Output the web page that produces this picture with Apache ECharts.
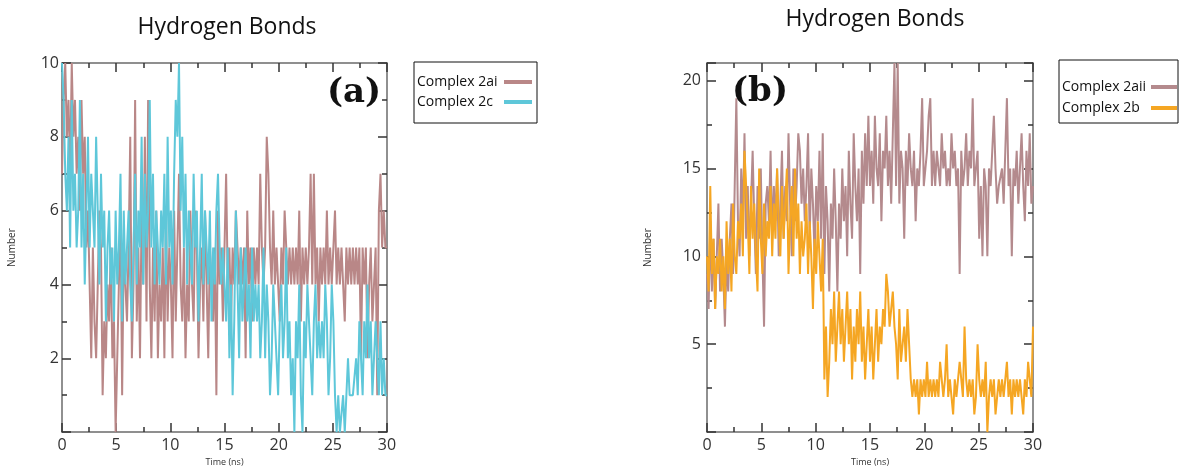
<!DOCTYPE html>
<html>
<head>
<meta charset="utf-8">
<script src="https://cdn.jsdelivr.net/npm/echarts@6/dist/echarts.min.js"></script>
<style>
  html, body { margin: 0; padding: 0; background: #fff; }
  #chart { width: 1185px; height: 472px; }
</style>
</head>
<body>
<div id="chart"></div>
<script>
'use strict';

///// data /////

// one sample every 0.15 ns, 0 .. 30 ns (201 samples), rows of 3 ns
const timeStep = 0.15;

const complex2ai = [
  7,9,10,8,9,7,10,8,9,7,8,6,9,7,8,5,6,4,2,5,
  3,2,4,6,5,1,3,2,4,3,5,2,3,0,2,4,6,1,5,4,
  3,5,8,2,4,9,3,5,2,6,4,8,3,9,4,2,5,3,6,2,
  4,3,5,2,6,3,5,4,2,6,3,5,7,4,3,5,2,4,3,6,
  4,3,6,5,2,4,5,3,6,4,2,5,4,3,5,1,6,4,5,3,
  5,7,4,5,3,5,4,6,5,4,5,4,5,2,6,4,5,3,5,4,
  5,4,7,5,4,5,8,7,5,4,6,4,5,4,3,5,4,6,5,4,
  5,4,5,4,5,4,6,3,5,4,5,4,5,7,4,7,4,5,3,5,
  4,5,4,6,4,5,4,5,6,4,5,4,5,4,3,5,4,5,4,5,
  4,5,4,5,2,5,4,5,2,4,5,3,4,5,1,6,7,5,6,5,
  5
];

const complex2c = [
  10,9,7,6,8,5,9,6,7,5,6,9,5,7,4,6,8,5,7,6,
  5,8,6,4,7,5,6,3,5,6,4,5,3,6,4,5,7,3,6,4,
  5,6,4,3,5,7,4,6,5,8,4,7,5,6,9,5,7,4,6,5,
  4,6,5,7,4,8,5,6,4,7,9,8,10,6,8,5,7,4,6,5,
  4,7,5,6,3,5,7,4,6,5,4,6,3,5,4,6,7,5,4,5,
  4,3,5,2,4,1,3,6,4,2,5,3,4,5,3,4,2,5,3,4,
  3,4,2,3,5,2,4,3,1,2,4,3,2,1,3,4,2,3,5,2,
  3,1,2,0,3,2,4,1,0,3,2,4,3,2,1,3,4,2,3,2,
  3,2,4,3,1,2,4,3,1,0,1,0,0,1,0,1,2,1,1,1,
  1,2,1,3,2,1,3,2,4,2,3,1,2,3,2,1,3,1,2,1,
  1
];

const complex2aii = [
  9,7,12,8,11,7,10,13,8,11,9,6,10,8,11,13,9,14,19,12,
  10,15,12,17,11,14,10,13,16,12,9,14,11,15,10,6,13,14,12,16,
  11,14,12,15,10,13,16,11,14,12,17,13,10,15,12,14,17,16,13,15,
  12,14,17,11,15,13,10,14,12,16,11,17,9,14,12,8,13,11,15,12,
  8,13,11,15,12,14,10,16,13,11,17,14,12,15,9,16,13,17,14,18,
  14,16,13,18,15,14,17,12,16,15,18,14,16,13,17,21,14,21,13,16,
  15,11,16,14,17,15,14,16,12,15,14,16,19,14,15,16,18,19,14,16,
  14,16,15,14,17,15,16,14,15,14,17,15,16,14,15,9,16,14,15,17,
  14,16,15,19,14,15,16,11,14,10,15,14,10,15,14,16,18,15,13,14,
  14,15,13,16,19,14,15,10,15,14,16,13,15,17,14,12,16,14,17,13,
  14
];

const complex2b = [
  10,8,14,9,11,7,10,9,11,8,10,7,12,9,11,8,13,10,9,12,
  11,13,10,16,16,12,9,14,11,13,10,8,15,11,9,13,10,12,11,14,
  10,13,11,15,12,10,14,11,13,15,9,12,14,10,15,11,13,9,12,10,
  11,13,9,12,10,7,11,9,12,10,8,11,3,6,2,4,7,5,8,4,
  6,8,5,7,4,6,8,5,7,3,6,4,7,5,8,4,6,3,5,7,
  4,6,3,5,7,4,6,5,7,6,9,8,6,7,8,6,5,3,7,4,
  5,6,4,7,5,3,2,3,2,3,1,3,2,3,2,4,2,3,2,3,
  2,3,2,4,3,2,3,5,2,3,2,1,3,2,3,4,3,2,6,3,
  2,3,2,3,1,2,5,3,2,3,2,4,0,2,3,2,3,1,2,3,
  2,3,2,3,4,2,3,1,3,2,3,2,3,2,1,3,2,4,3,2,
  6
];

const seriesNames = ['Complex 2ai', 'Complex 2c', 'Complex 2aii', 'Complex 2b'];
const seriesColors = ['#b98787', '#5ec7d9', '#b48a8d', '#f5a623'];

const timeTicks = { min: 0, max: 30, interval: 5 };
const leftTicks = { min: 0, max: 10, interval: 2 };
const rightTicks = { min: 0, max: 21, interval: 5 };

//////////////////////

const withTime = (values) => values.map((v, i) => [+(i * timeStep).toFixed(2), v]);

const font = 'Open Sans';

const axis = (gridIndex, range, position, opts) => {
  const a = {
    type: 'value',
    gridIndex: gridIndex,
    position: position,
    min: range.min,
    max: range.max,
    interval: range.interval,
    axisLine: { show: true, onZero: false, lineStyle: { color: '#6b6b6b', width: 1.5 } },
    axisTick: { show: true, inside: true, length: 9, lineStyle: { color: '#333', width: 1.5 } },
    minorTick: { show: true, splitNumber: 2, length: 5, lineStyle: { color: '#333', width: 1.5 } },
    splitLine: { show: false },
    axisLabel: { show: false }
  };
  return Object.assign(a, opts || {});
};

const labelStyle = { show: true, color: '#333', fontSize: 16, fontFamily: font };

const yLabel = (gap, hideMax) => ({
  axisLabel: Object.assign({}, labelStyle, {
    margin: gap,
    showMinLabel: false,
    formatter: (v) => (hideMax && v % 5 !== 0) ? '' : String(v)
  }),
  name: 'Number',
  nameLocation: 'middle',
  nameRotate: 90,
  nameTextStyle: { fontSize: 10, color: '#333', fontFamily: font }
});

const xLabel = {
  axisLabel: Object.assign({}, labelStyle, { margin: 5 }),
  name: 'Time (ns)',
  nameLocation: 'middle',
  nameGap: 24,
  nameTextStyle: { fontSize: 9, color: '#333', fontFamily: font }
};

const lineSeries = (k, axisIdx, values) => ({
  name: seriesNames[k],
  type: 'line',
  xAxisIndex: axisIdx,
  yAxisIndex: axisIdx,
  data: withTime(values),
  showSymbol: false,
  symbol: 'none',
  animation: false,
  lineStyle: { color: seriesColors[k], width: 2 },
  itemStyle: { color: seriesColors[k] }
});

const legend = (names, left, top, padding, gap, textWidth, iconWidth) => ({
  data: names,
  orient: 'vertical',
  left: left,
  top: top,
  align: 'right',
  icon: 'rect',
  itemWidth: iconWidth,
  itemHeight: 4,
  itemGap: gap,
  padding: padding,
  borderColor: '#111',
  borderWidth: 1,
  selectedMode: false,
  formatter: (name) => '{n|' + name + '}',
  textStyle: {
    fontSize: 14, color: '#111', fontFamily: font,
    rich: { n: { width: textWidth, align: 'left', fontSize: 14, color: '#111', fontFamily: font } }
  }
});

const option = {
  backgroundColor: '#fff',
  animation: false,
  grid: [
    { left: 62, top: 63, width: 325, height: 379 },
    { left: 707, top: 63, width: 326, height: 379 }
  ],
  xAxis: [
    axis(0, timeTicks, 'bottom', xLabel),
    axis(1, timeTicks, 'bottom', xLabel),
    axis(0, timeTicks, 'top'),
    axis(1, timeTicks, 'top')
  ],
  yAxis: [
    axis(0, leftTicks, 'left', Object.assign(yLabel(3, false), { nameGap: 45 })),
    axis(1, rightTicks, 'left', Object.assign(yLabel(6, true), { nameGap: 54 })),
    axis(0, leftTicks, 'right'),
    axis(1, rightTicks, 'right')
  ],
  legend: [
    legend(['Complex 2ai', 'Complex 2c'], 414, 62, [13, 5, 14, 3], 6, 82, 28),
    legend(['Complex 2aii', 'Complex 2b'], 1059, 60, [20, 1, 8, 3], 7, 84, 26)
  ],
  graphic: [
    { type: 'text', x: 227, y: 27, style: { text: 'Hydrogen Bonds', fill: '#111', font: '23px "Open Sans"', align: 'center', verticalAlign: 'middle' } },
    { type: 'text', x: 875, y: 19, style: { text: 'Hydrogen Bonds', fill: '#111', font: '23px "Open Sans"', align: 'center', verticalAlign: 'middle' } },
    { type: 'text', x: 354, y: 93, z: 10, style: { text: '(a)', fill: '#111', font: 'bold 34px "DejaVu Serif"', align: 'center', verticalAlign: 'middle' } },
    { type: 'text', x: 760, y: 92, z: 10, style: { text: '(b)', fill: '#111', font: 'bold 34px "DejaVu Serif"', align: 'center', verticalAlign: 'middle' } }
  ],
  series: [
    lineSeries(0, 0, complex2ai),
    lineSeries(1, 0, complex2c),
    lineSeries(2, 1, complex2aii),
    lineSeries(3, 1, complex2b)
  ]
};

const chart = echarts.init(document.getElementById('chart'));
chart.setOption(option);
</script>
</body>
</html>
